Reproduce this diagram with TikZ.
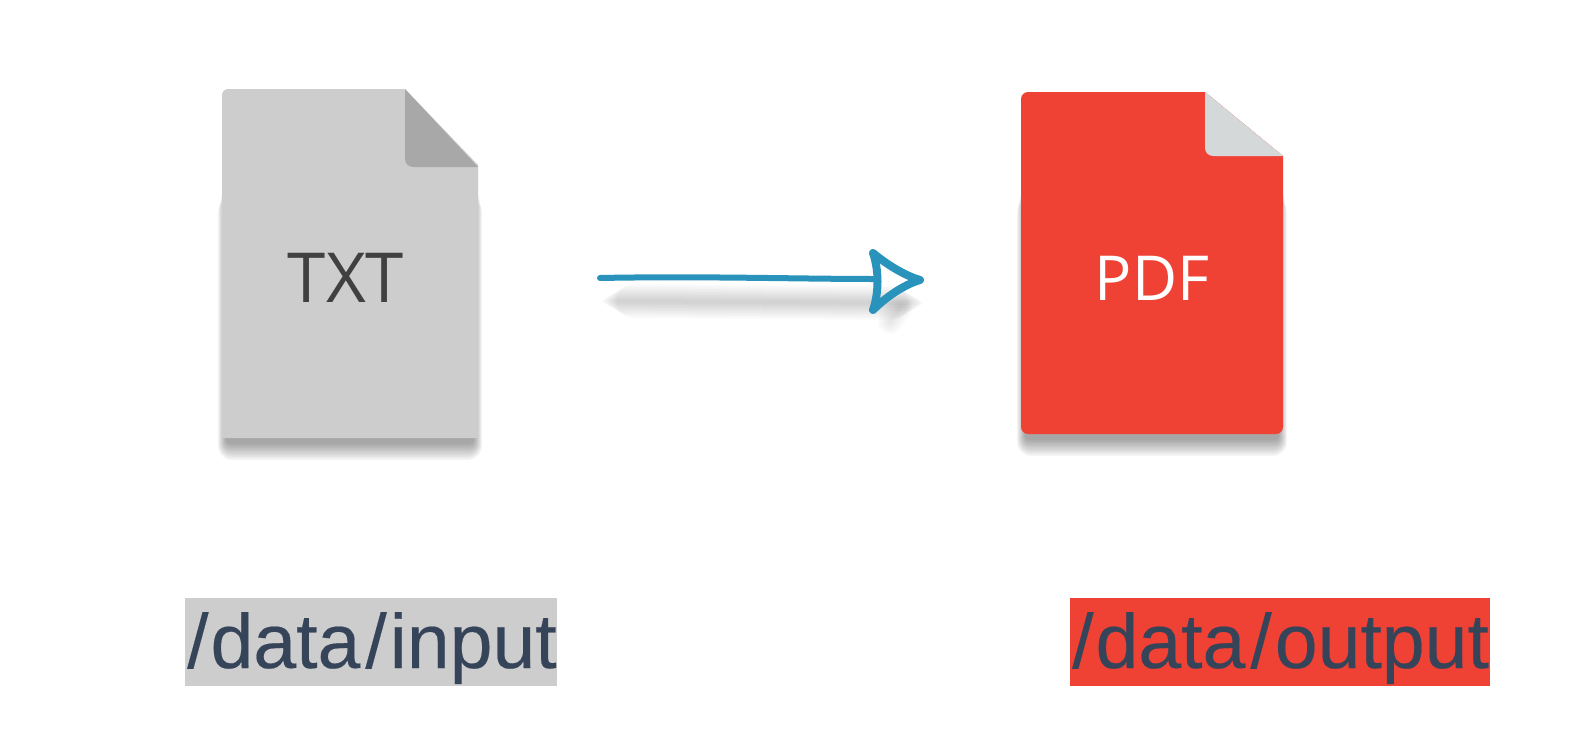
\documentclass[tikz,border=0pt]{standalone}
\usepackage{fontspec}
\setmainfont{Liberation Sans}
\newfontfamily\iconfont{Open Sans}
\definecolor{paperg}{HTML}{CDCDCD}
\definecolor{foldg}{HTML}{A8A8A8}
\definecolor{redf}{HTML}{F04135}
\definecolor{foldl}{HTML}{D5D8D9}
\definecolor{inkb}{HTML}{36445A}
\definecolor{arrowb}{HTML}{2A93BB}
% left, right, bottom of the sheet: a stack of faint layers makes a soft shadow
\newcommand{\softshadow}[3]{%
  \foreach \k in {0,...,9}{
    \fill[black,opacity=0.04,rounded corners={(4+\k*1.2)*1pt}]
      ({#1+4-\k*0.9},{172+\k*3}) rectangle ({#2-4+\k*0.9},{#3+6+\k*1.8});
  }}
\tikzset{
  filelabel/.style={font=\addfontfeature{Kerning=Off,FakeBold=0.25}\fontsize{77}{80}\selectfont,text=inkb,inner sep=0pt,anchor=base west},
  icontext/.style={inner sep=0pt,anchor=base},
  pen/.style={draw=arrowb,line width=6pt,line cap=round,line join=round},
  headpen/.style={draw=arrowb,line width=8pt,line cap=round,line join=round}
}
\begin{document}
\begin{tikzpicture}[x=1pt,y=-1pt]
\useasboundingbox (0,0) rectangle (1579,752);
\fill[white] (0,0) rectangle (1579,752);
% TXT file
\softshadow{222}{478}{438}
\fill[paperg,rounded corners=6pt] (405,89) [sharp corners] -- (478,165) -- (478,438) [rounded corners=2pt] -- (222,438) [rounded corners=6pt] -- (222,89) [sharp corners] -- cycle;
\fill[foldg] (405,89) [rounded corners=8pt] -- (405,167) [sharp corners] -- (478,167) -- cycle;
\node[icontext,text=black!75,font=\iconfont\fontsize{69}{72}\selectfont] (txt) at (346,302) {TXT};
% PDF file
\softshadow{1021}{1283}{434}
\fill[redf] (1205,92) [sharp corners] -- (1283,156) [rounded corners=7pt] -- (1283,434) -- (1021,434) -- (1021,92) [sharp corners] -- cycle;
\fill[foldl] (1205,92) [rounded corners=8pt] -- (1205,156) [sharp corners] -- (1283,156) -- cycle;
\node[icontext,text=white,font=\iconfont\fontsize{62}{65}\selectfont] (pdf) at (1152,300) {PDF};
% arrow shadow
\foreach \w in {4,7,...,34}{
  \draw[black,opacity=0.016,line width=\w pt,line cap=round] ({600+\w},301) -- ({925-\w},303);
}
\foreach \w in {4,8,...,24}{
  \draw[black,opacity=0.014,line width=\w pt,line cap=round] (890,322) -- (900,308);
}
% arrow
\coordinate (a0) at (600,278);
\coordinate (a1) at (874,279);
\coordinate (t) at (920,280);
\coordinate (u) at (873,253);
\coordinate (l) at (873,310);
\draw[pen] (a0) .. controls (700,276) and (800,279) .. (a1);
\draw[headpen] (u) .. controls (885,263) and (903,275) .. (t) .. controls (903,285) and (885,298) .. (l) .. controls (879,293) and (879,270) .. (u);
% labels
\fill[paperg] (185,598) rectangle (557,686);
\node[filelabel] (inp) at (187,668) {/\kern2pt data\kern5pt/\kern3pt input};
\fill[redf] (1070,598) rectangle (1490,686);
\node[filelabel] (outp) at (1072,668) {/\kern2pt data\kern5pt/\kern3pt output};
\end{tikzpicture}
\end{document}
